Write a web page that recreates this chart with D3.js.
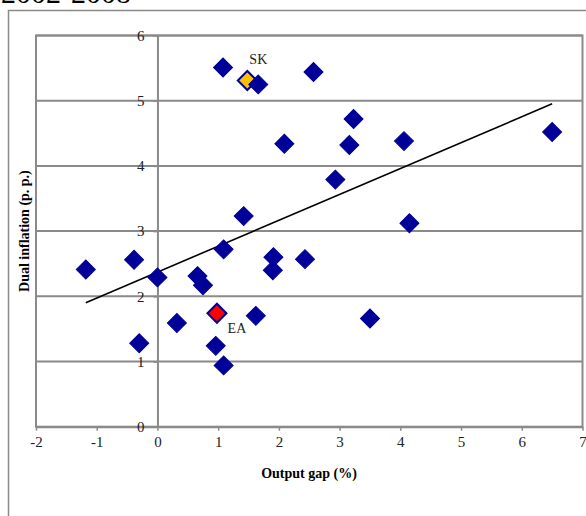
<!DOCTYPE html>
<html>
<head>
<meta charset="utf-8">
<script src="https://cdn.jsdelivr.net/npm/d3@7"></script>
<style>
  body { margin: 0; background: #fff; }
  svg { display: block; font-family: "Liberation Serif", "Times New Roman", serif; }
</style>
</head>
<body>
<div class="dual-viz"></div>
<script>
// output gap (%) vs dual inflation (p. p.), 2002-2008
const outputGap = [-1.18, -0.385, 0.0, 0.66, 0.75, 1.09, 1.42, 0.32, -0.30, 0.98, 0.96, 1.09, 1.62, 1.91,
    1.90, 2.43, 3.50, 1.08, 1.48, 1.66, 2.57, 3.23, 2.09, 3.16, 2.93, 4.06, 6.50, 4.15];
const dualInflation = [2.41, 2.56, 2.29, 2.31, 2.17, 2.72, 3.23, 1.59, 1.28, 1.74, 1.24, 0.94, 1.70, 2.60,
    2.40, 2.57, 1.66, 5.51, 5.31, 5.25, 5.44, 4.72, 4.34, 4.32, 3.79, 4.38, 4.52, 3.12];
const pointLabels = ["", "", "", "", "", "", "", "", "", "EA", "", "", "", "",
    "", "", "", "", "SK", "", "", "", "", "", "", "", "", ""];

const xTicks = [-2, -1, 0, 1, 2, 3, 4, 5, 6, 7];
const yTicks = [0, 1, 2, 3, 4, 5, 6];

const data = outputGap.map((d, i) => ({x: d, y: dualInflation[i], label: pointLabels[i]}));

const width = 586, height = 516;
const svg = d3.select(".dual-viz")
  .append("svg")
    .attr("width", width)
    .attr("height", height);

const x = d3.scaleLinear().domain([-2, 7]).range([36, 582.5]);
const y = d3.scaleLinear().domain([0, 6]).range([426.7, 35.5]);

// title, cut off at the top as in the source
svg.append("text")
    .attr("x", 1)
    .attr("y", 3)
    .style("font-size", "30px")
    .text("2002-2008");

// outer chart frame
svg.append("rect")
    .attr("x", 8.5).attr("y", 10.5)
    .attr("width", 600).attr("height", 530)
    .attr("fill", "none")
    .attr("stroke", "#8a8a8a")
    .attr("stroke-width", 1.5);

// horizontal gridlines
svg.append("g")
  .selectAll("line")
  .data(yTicks.slice(1))
  .join("line")
    .attr("x1", x(-2)).attr("x2", x(7))
    .attr("y1", d => y(d)).attr("y2", d => y(d))
    .attr("stroke", "#8a8a8a")
    .attr("stroke-width", 2);

// plot area border
svg.append("rect")
    .attr("x", x(-2)).attr("y", y(6))
    .attr("width", x(7) - x(-2)).attr("height", y(0) - y(6))
    .attr("fill", "none")
    .attr("stroke", "#8a8a8a")
    .attr("stroke-width", 2);

// X axis at y = 0
const xAxis = svg.append("g")
    .attr("transform", `translate(0, ${y(0)})`)
    .call(d3.axisBottom(x).tickValues(xTicks).tickSizeInner(4).tickSizeOuter(0).tickPadding(6)
        .tickFormat(d => String(d)));
xAxis.select(".domain").attr("stroke", "#8a8a8a").attr("stroke-width", 2);
xAxis.selectAll(".tick line").attr("stroke", "#8a8a8a").attr("stroke-width", 1.5);
xAxis.selectAll("text").style("font-size", "15px").attr("fill", "#222")
    .attr("font-family", "Liberation Serif, serif");

// Y axis crossing at x = 0
const yAxis = svg.append("g")
    .attr("transform", `translate(${x(0)}, 0)`)
    .call(d3.axisLeft(y).tickValues(yTicks).tickSizeInner(4).tickSizeOuter(0).tickPadding(9)
        .tickFormat(d => String(d)));
yAxis.select(".domain").attr("stroke", "#8a8a8a").attr("stroke-width", 2);
yAxis.selectAll(".tick line").attr("stroke", "#8a8a8a").attr("stroke-width", 1.5);
yAxis.selectAll("text").style("font-size", "15px").attr("fill", "#222")
    .attr("font-family", "Liberation Serif, serif");

// axis titles
svg.append("text")
    .attr("x", 309)
    .attr("y", 478)
    .attr("text-anchor", "middle")
    .style("font-size", "14px")
    .style("font-weight", "bold")
    .text("Output gap (%)");

svg.append("text")
    .attr("transform", `translate(29, ${(y(0) + y(6)) / 2}) rotate(-90)`)
    .attr("text-anchor", "middle")
    .style("font-size", "14px")
    .style("font-weight", "bold")
    .text("Dual inflation (p. p.)");

// linear trend (least squares over all points)
const mx = d3.mean(data, d => d.x), my = d3.mean(data, d => d.y);
const slope = d3.sum(data, d => (d.x - mx) * (d.y - my)) / d3.sum(data, d => (d.x - mx) ** 2);
const icpt = my - slope * mx;
const [x0, x1] = d3.extent(data, d => d.x);

svg.append("line")
    .attr("x1", x(x0)).attr("y1", y(icpt + slope * x0))
    .attr("x2", x(x1)).attr("y2", y(icpt + slope * x1))
    .attr("stroke", "#000")
    .attr("stroke-width", 1.6);

// diamonds: SK sits below its neighbour, EA on top
const fillFor = d => d.label === "EA" ? "#ff0000" : d.label === "SK" ? "#ffc000" : "#000099";
const order = d => d.label === "SK" ? 0 : d.label === "EA" ? 2 : 1;
const diamond = d3.symbol().type(d3.symbolSquare).size(180);

svg.append("g")
  .selectAll("path")
  .data(data.slice().sort((a, b) => order(a) - order(b)))
  .join("path")
    .attr("d", diamond)
    .attr("transform", d => `translate(${x(d.x)}, ${y(d.y)}) rotate(45)`)
    .attr("fill", fillFor)
    .attr("stroke", "#000099")
    .attr("stroke-width", d => d.label ? 2 : 1);

// point labels
svg.append("g")
  .selectAll("text")
  .data(data.filter(d => d.label))
  .join("text")
    .attr("x", d => x(d.x) + (d.label === "SK" ? 11 : 20))
    .attr("y", d => y(d.y) + (d.label === "SK" ? -16 : 20))
    .attr("text-anchor", "middle")
    .style("font-size", "14px")
    .attr("fill", "#222")
    .text(d => d.label);
</script>
</body>
</html>
